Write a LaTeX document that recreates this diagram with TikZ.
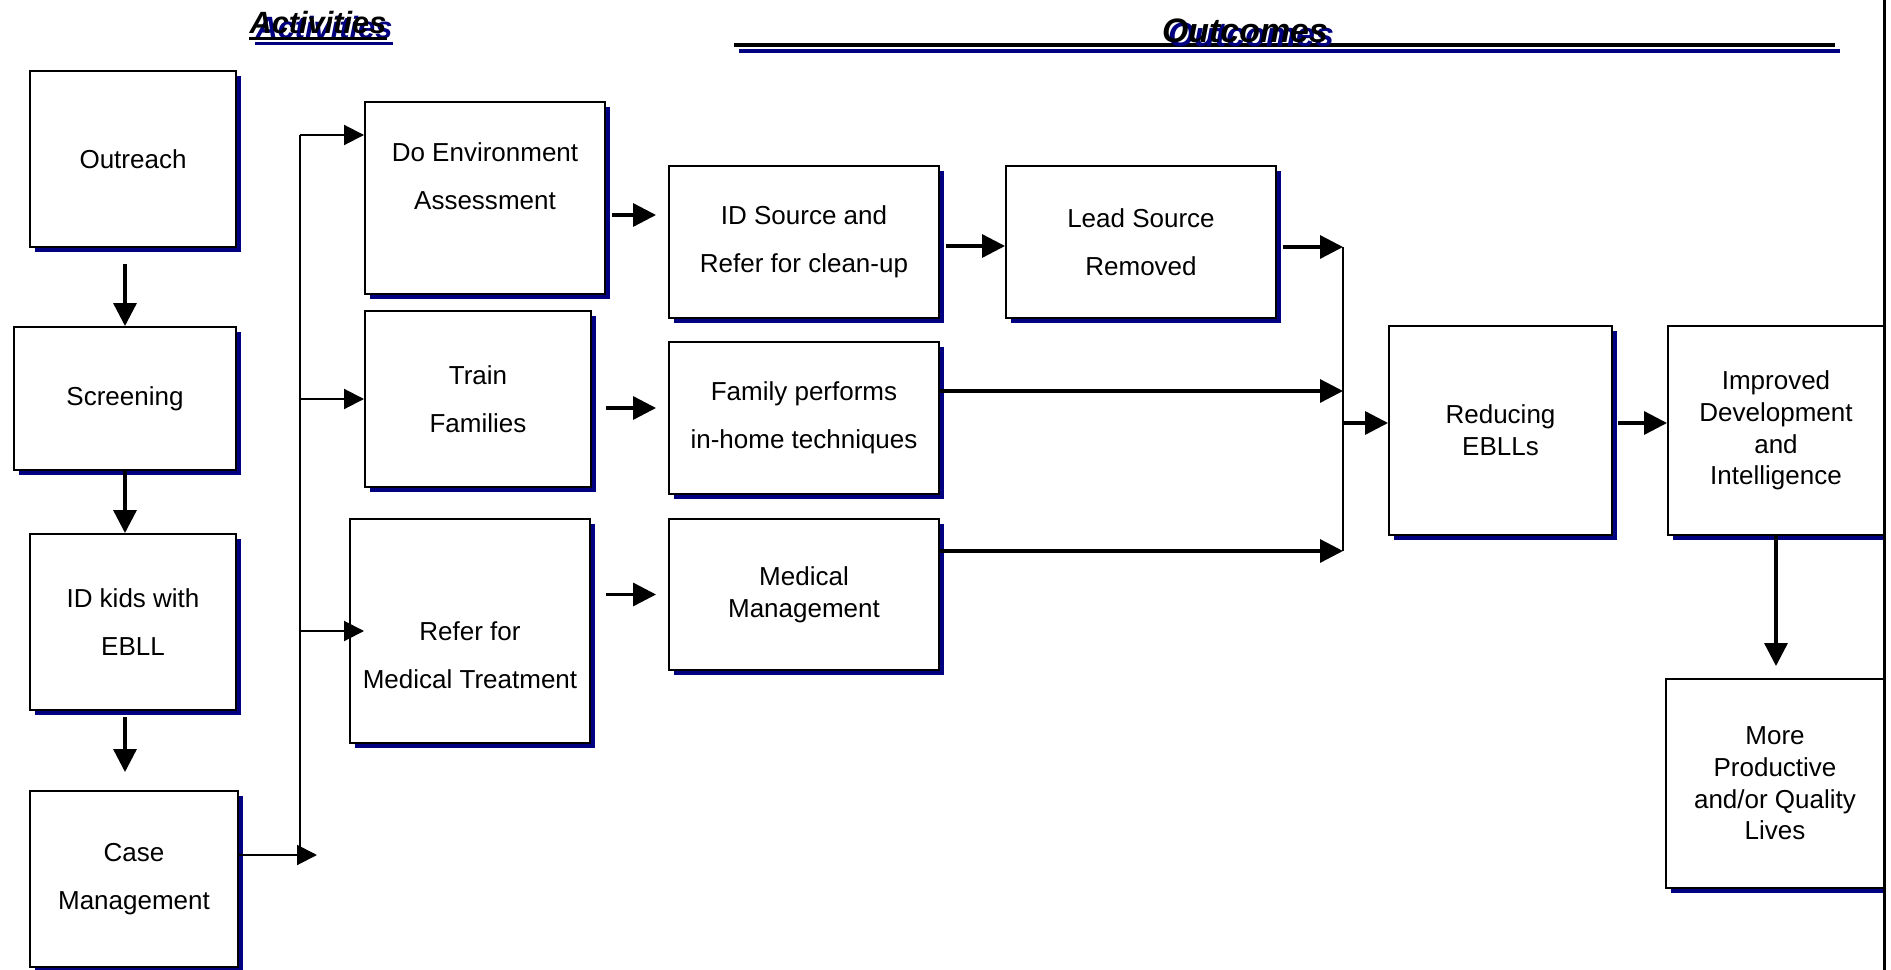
\documentclass[tikz,border=0pt]{standalone}
\usepackage{fontspec}
\setmainfont{Liberation Sans}
\usetikzlibrary{positioning, shadows, arrows.meta}
\definecolor{shadownavy}{RGB}{0,0,128}
\tikzset{
  box/.style={draw, rectangle, align=center, fill=white, line width=0.04cm, inner sep=0pt,
    drop shadow={shadow xshift=0.1cm, shadow yshift=-0.1cm, fill=shadownavy, opacity=1},
    font=\fontsize{14.8}{27.3}\selectfont},
  tightbox/.style={box, font=\fontsize{14.8}{18}\selectfont},
  boxtext/.style={align=center, inner sep=0pt, font=\fontsize{14.8}{27.3}\selectfont},
  arr/.style={-{Triangle[length=0.46cm, width=0.46cm]}, line width=0.066cm},
  thinarr/.style={-{Triangle[length=0.4cm, width=0.4cm]}, line width=0.04cm},
  headtext/.style={inner sep=0pt, anchor=base, font=\bfseries\itshape\fontsize{17.5}{20}\selectfont}
}
\begin{document}
\begin{tikzpicture}[x=0.02cm, y=-0.02cm]
\useasboundingbox (0,0) rectangle (1891,970);

\node [headtext, text=shadownavy] (actshadow) at (324,38) {Activities};
\draw [shadownavy, line width=0.06cm] ([yshift=-0.12cm]actshadow.base west) -- ([yshift=-0.12cm]actshadow.base east);
\node [headtext] (acttitle) at (318,33) {Activities};
\draw [line width=0.06cm] ([yshift=-0.12cm]acttitle.base west) -- ([yshift=-0.12cm]acttitle.base east);

\draw [shadownavy, line width=0.08cm] (739,51) -- (1840,51);
\draw [line width=0.08cm] (734,45) -- (1835,45);
\node [headtext, font=\bfseries\itshape\fontsize{19.3}{22}\selectfont, text=shadownavy] (outshadow) at (1251,47) {Outcomes};
\node [headtext, font=\bfseries\itshape\fontsize{19.3}{22}\selectfont] (outtitle) at (1245,42) {Outcomes};

\node [box, minimum width=4.12cm, minimum height=3.52cm] (outreach) at (133,159) {Outreach};
\node [box, minimum width=4.44cm, minimum height=2.86cm] (screen) at (125,398.5) {Screening};
\node [box, minimum width=4.12cm, minimum height=3.52cm] (idkids) at (133,622) {ID kids with\\EBLL};
\node [box, minimum width=4.16cm, minimum height=3.52cm] (casemgmt) at (134,879) {Case\\Management};

\node [box, minimum width=4.8cm, minimum height=3.84cm, label={[boxtext, yshift=0.44cm]center:{Do Environment\\Assessment}}] (doenv) at (485,198) {};
\node [box, minimum width=4.52cm, minimum height=3.52cm] (train) at (478,399) {Train\\Families};
\node [box, minimum width=4.8cm, minimum height=4.48cm, label={[boxtext, yshift=-0.48cm]center:{Refer for\\Medical Treatment}}] (refer) at (470,631) {};

\node [box, minimum width=5.4cm, minimum height=3.04cm] (idsource) at (804,242) {ID Source and\\Refer for clean-up};
\node [box, minimum width=5.4cm, minimum height=3.04cm] (family) at (804,418) {Family performs\\in-home techniques};
\node [tightbox, minimum width=5.4cm, minimum height=3.02cm] (medmgmt) at (804,594.5) {Medical\\Management};
\node [box, minimum width=5.4cm, minimum height=3.04cm] (lead) at (1141,242) {Lead Source\\Removed};

\node [tightbox, minimum width=4.46cm, minimum height=4.18cm] (reducing) at (1500.5,430.5) {Reducing\\EBLLs};
\node [tightbox, minimum width=4.32cm, minimum height=4.18cm] (improved) at (1776,430.5) {Improved\\Development\\and\\Intelligence};
\node [tightbox, minimum width=4.36cm, minimum height=4.18cm] (more) at (1775,783.5) {More\\Productive\\and/or Quality\\Lives};

\fill [white] (1885,0) rectangle (1891,970);
\draw [line width=0.06cm] (1884,0) -- (1884,970);

\draw [arr, shorten <=0.32cm] (outreach.south -| screen.north) -- (screen.north);
\draw [arr] (screen.south) -- (screen.south |- idkids.north);
\draw [arr, shorten <=0.12cm, shorten >=0.36cm] (idkids.south -| screen.south) -- (casemgmt.north -| screen.south);

\coordinate (bustop) at (300,135);
\coordinate (busbot) at (300,855);
\coordinate (busin) at (317,855);
\draw [line width=0.04cm] (bustop) -- (busbot);
\draw [thinarr] (casemgmt.east |- busin) -- (busin);
\draw [thinarr] (bustop) -- (bustop -| doenv.west);
\draw [thinarr] (bustop |- train.west) -- (train.west);
\draw [thinarr, shorten >=-0.3cm] (bustop |- refer.west) -- (refer.west);

\draw [arr, shorten <=0.12cm, shorten >=0.24cm] ([yshift=-0.34cm]doenv.east) -- ([yshift=-0.34cm]doenv.east -| idsource.west);
\draw [arr, shorten <=0.28cm, shorten >=0.24cm] ([yshift=-0.18cm]train.east) -- ([yshift=-0.18cm]train.east -| family.west);
\draw [arr, shorten <=0.3cm, shorten >=0.24cm] (medmgmt.west -| refer.east) -- (medmgmt.west);
\draw [arr, shorten <=0.12cm] ([yshift=-0.08cm]idsource.east) -- ([yshift=-0.08cm]lead.west);

\coordinate (bus2top) at (1343,247);
\coordinate (bus2mid) at (1343,391);
\coordinate (bus2bot) at (1343,551);
\coordinate (bus2out) at (1343,423);
\draw [line width=0.04cm] (bus2top) -- (bus2bot);
\draw [arr, shorten <=0.12cm] (lead.east |- bus2top) -- (bus2top);
\draw [arr] (family.east |- bus2mid) -- (bus2mid);
\draw [arr] (medmgmt.east |- bus2bot) -- (bus2bot);
\draw [arr] (bus2out) -- (bus2out -| reducing.west);
\draw [arr, shorten <=0.1cm] (bus2out -| reducing.east) -- (bus2out -| improved.west);
\draw [arr, shorten >=0.24cm] (improved.south) -- (improved.south |- more.north);
\end{tikzpicture}
\end{document}
